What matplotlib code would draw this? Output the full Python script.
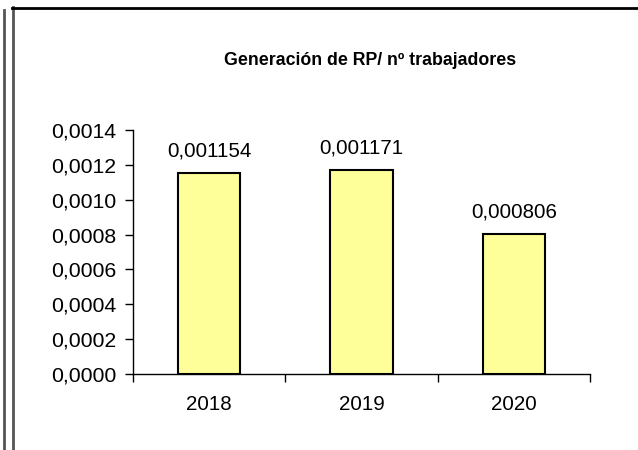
import matplotlib
matplotlib.use("Agg")
import matplotlib.pyplot as plt
from matplotlib.ticker import FuncFormatter, FixedLocator
from matplotlib.lines import Line2D

plt.rcParams['font.family'] = ['Liberation Sans', 'DejaVu Sans']

# Datos
years = ["2018", "2019", "2020"]
values = [0.001154, 0.001171, 0.000806]
title = "Generación de RP/ nº trabajadores"

fig = plt.figure(figsize=(6.38, 4.5), dpi=100)
ax = fig.add_axes([0.2085, 0.169, 0.7163, 0.542])

x = list(range(len(years)))
ax.bar(x, values, width=0.41, color="#FFFF99", edgecolor="black", linewidth=1.5, zorder=3)

for xi, v in zip(x, values):
    ax.annotate(f"{v:.6f}".replace(".", ","), (xi, v), xytext=(0, 9),
                textcoords="offset points", ha="center", va="bottom", fontsize=14.8)

ax.set_xlim(-0.5, len(years) - 0.5)
ax.set_ylim(0, 0.0014)
ax.set_yticks([i * 0.0002 for i in range(8)])
ax.yaxis.set_major_formatter(FuncFormatter(lambda v, p: f"{v:.4f}".replace(".", ",")))
ax.set_xticks(x)
ax.set_xticklabels(years)
ax.xaxis.set_minor_locator(FixedLocator([-0.5, 0.5, 1.5, 2.5]))
ax.tick_params(axis="x", which="major", length=0, labelsize=14.8, pad=15)
ax.tick_params(axis="x", which="minor", length=6, width=1, direction="out")
ax.tick_params(axis="y", length=6, width=1, direction="out", labelsize=15.3, pad=6)

for s in ["top", "right"]:
    ax.spines[s].set_visible(False)
for s in ["left", "bottom"]:
    ax.spines[s].set_linewidth(1)

fig.text(0.58, 0.866, title, ha="center", va="center", fontsize=12.8, fontweight="bold")

# marco
fig.add_artist(Line2D([0.0065, 0.0065], [0.0, 0.978], color="#555555", lw=2))
fig.add_artist(Line2D([0.0205, 0.0205], [0.0, 0.984], color="#555555", lw=2))
fig.add_artist(Line2D([0.0195, 1.0], [0.983, 0.983], color="black", lw=2))

fig.savefig("out.png", dpi=100)
